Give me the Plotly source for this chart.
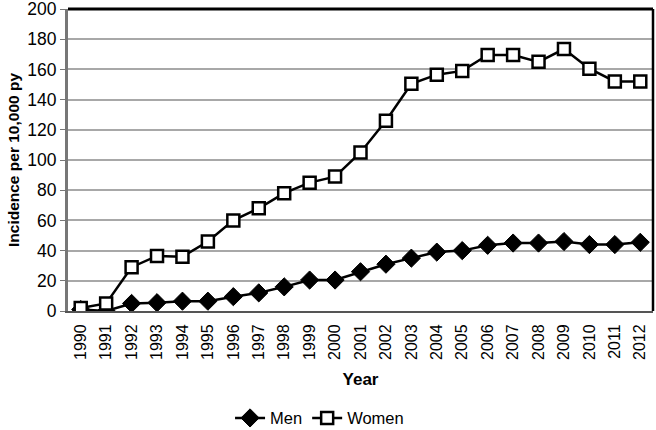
import plotly.graph_objects as go

years = [str(y) for y in range(1990, 2013)]
men = [1, 0, 5, 5.5, 6.5, 6.5, 9.5, 12, 16, 20.5, 20.5, 26, 31, 35, 39, 40, 43.5, 45, 45, 46, 44, 44, 45.5]
women = [2, 5, 29, 36.5, 36, 46, 60, 68, 78, 85, 89, 105, 126, 150.5, 156.5, 159, 169.5, 169.5, 165, 173.5, 160.5, 152, 152]
y_ticks = list(range(0, 201, 20))

FONT = "Liberation Sans, Arial, sans-serif"

fig = go.Figure()
fig.add_trace(go.Scatter(
    x=years, y=men, name="Men", mode="lines+markers",
    line=dict(color="black", width=2.5),
    marker=dict(symbol="diamond", size=14, color="black", line=dict(color="black", width=1)),
))
fig.add_trace(go.Scatter(
    x=years, y=women, name="Women", mode="lines+markers",
    line=dict(color="black", width=2.5),
    marker=dict(symbol="square", size=12, color="white", line=dict(color="black", width=2.5)),
))

fig.update_layout(
    width=656, height=430,
    margin=dict(l=68, r=3, t=9, b=119, autoexpand=False),
    paper_bgcolor="white", plot_bgcolor="white",
    font=dict(family=FONT, size=16, color="black"),
    showlegend=True,
    legend=dict(orientation="h", x=0.43, xanchor="center", y=-0.355, yanchor="middle",
                font=dict(size=16.5), tracegroupgap=0),
    xaxis=dict(
        type="category", tickangle=-90, showgrid=False, automargin=False,
        showline=True, linecolor="#555555", linewidth=2,
        ticks="", tickfont=dict(size=16), ticklabelstandoff=5,
        title=dict(text="<b>Year</b>", font=dict(size=17), standoff=14),
        range=[-0.5, len(years) - 0.5],
    ),
    yaxis=dict(
        range=[0, 200], tickvals=y_ticks, showgrid=True, gridcolor="#a8a8a8", gridwidth=1.5,
        showline=True, linecolor="#777777", linewidth=3, automargin=False,
        ticks="outside", ticklen=5, tickcolor="#777777", tickfont=dict(size=17.5),
        ticklabeloverflow="allow",
        title=dict(text="<b>Incidence per 10,000 py</b>", font=dict(size=15.5), standoff=4),
        zeroline=False,
    ),
    shapes=[
        dict(type="line", xref="paper", yref="paper", x0=0, x1=1, y0=1, y1=1,
             line=dict(color="black", width=3)),
        dict(type="line", xref="paper", yref="paper", x0=1, x1=1, y0=0, y1=1,
             line=dict(color="black", width=2.5)),
    ],
)

fig.write_html("out.html", config={"displayModeBar": False},
               post_script="document.body.style.margin='0';document.body.style.overflow='hidden';")
